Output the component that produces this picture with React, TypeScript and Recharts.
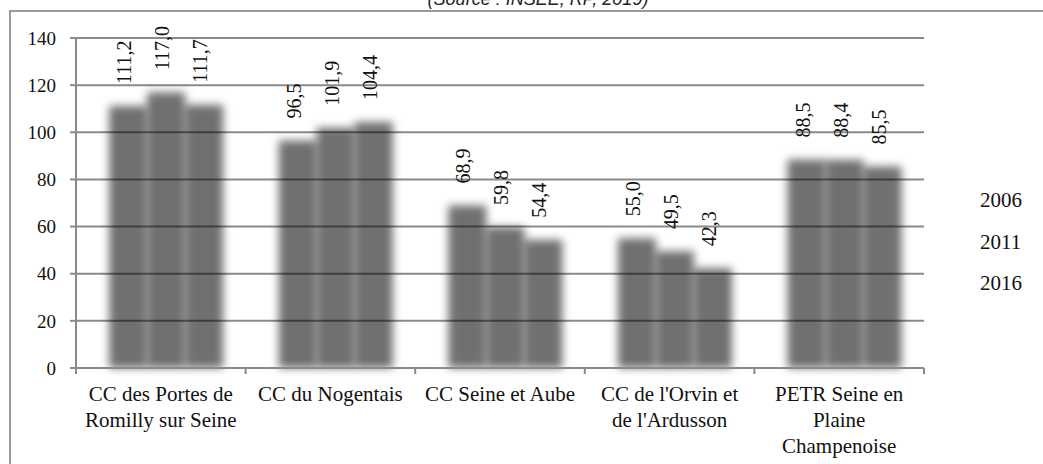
import React from 'react';
import { BarChart, Bar, XAxis, YAxis, CartesianGrid, LabelList } from 'recharts';

const categories = [
  'CC des Portes de\nRomilly sur Seine',
  'CC du Nogentais',
  'CC Seine et Aube',
  "CC de l'Orvin et\nde l'Ardusson",
  'PETR Seine en\nPlaine\nChampenoise',
];
const years = ['2006', '2011', '2016'];
const values2006 = [111.2, 96.5, 68.9, 55.0, 88.5];
const values2011 = [117.0, 101.9, 59.8, 49.5, 88.4];
const values2016 = [111.7, 104.4, 54.4, 42.3, 85.5];
const yTicks = [0, 20, 40, 60, 80, 100, 120, 140];

const data = categories.map((name, i) => ({
  name,
  v2006: values2006[i],
  v2011: values2011[i],
  v2016: values2016[i],
}));

const W = 1043;
const H = 464;
const PLOT_LEFT = 76;
const PLOT_RIGHT = 924;
const PLOT_TOP = 38;
const PLOT_BOTTOM = 368;
const BAND = (PLOT_RIGHT - PLOT_LEFT) / categories.length;
const SERIF = '"Liberation Serif", "Times New Roman", serif';
const AXIS = '#8a8a8a';

const fmt = (v: number) => v.toFixed(1).replace('.', ',');

const ValueLabel = (props: any) => {
  const { x, y, width, value } = props;
  const cx = Number(x) + Number(width) / 2 + 9;
  const ty = Number(y) - 22;
  return (
    <text
      x={cx}
      y={ty}
      transform={`rotate(-90, ${cx}, ${ty})`}
      textAnchor="start"
      fontFamily={SERIF}
      fontSize={20}
      fill="#111"
    >
      {fmt(Number(value))}
    </text>
  );
};

const CategoryTick = (props: any) => {
  const { x, y, payload, index } = props;
  const lines = String(payload.value).split('\n');
  const left = x - BAND / 2;
  return (
    <g>
      <line x1={left} x2={left} y1={PLOT_BOTTOM} y2={PLOT_BOTTOM + 6} stroke={AXIS} strokeWidth={2} />
      {index === categories.length - 1 && (
        <line x1={x + BAND / 2} x2={x + BAND / 2} y1={PLOT_BOTTOM} y2={PLOT_BOTTOM + 6} stroke={AXIS} strokeWidth={2} />
      )}
      <text x={x} y={y + 25} textAnchor="middle" fontFamily={SERIF} fontSize={21} fill="#111">
        {lines.map((l, i) => (
          <tspan key={i} x={x} dy={i === 0 ? 0 : 26}>
            {l}
          </tspan>
        ))}
      </text>
    </g>
  );
};

const seriesKeys = ['v2006', 'v2011', 'v2016'];

export default function App() {
  return (
    <div style={{ position: 'absolute', left: 0, top: 0, width: W, height: H, overflow: 'hidden', background: '#fff' }}>
      <div
        style={{
          position: 'absolute',
          left: 0,
          width: 1076,
          top: -10,
          textAlign: 'center',
          fontFamily: '"Liberation Sans", Arial, sans-serif',
          fontStyle: 'italic',
          fontSize: 18,
          lineHeight: '18px',
          color: '#222',
        }}
      >
        (Source : INSEE, RP, 2019)
      </div>
      <div
        style={{
          position: 'absolute',
          left: 9,
          top: 10,
          width: 1200,
          height: 600,
          border: '2px solid #9a9a9a',
        }}
      />
      <div style={{ position: 'absolute', left: 0, top: 0 }}>
        <BarChart
          width={W}
          height={H}
          data={data}
          margin={{ top: PLOT_TOP, right: W - PLOT_RIGHT, left: 0, bottom: 0 }}
          barCategoryGap="16%"
          barGap={0}
        >
          <defs>
            <filter id="soft" x="-50%" y="-15%" width="200%" height="130%">
              <feOffset dx={6} dy={0} />
              <feGaussianBlur stdDeviation={4.2} />
            </filter>
          </defs>
          <CartesianGrid vertical={false} stroke={AXIS} strokeWidth={2} />
          <XAxis
            dataKey="name"
            height={H - PLOT_BOTTOM}
            axisLine={{ stroke: AXIS, strokeWidth: 2 }}
            tickLine={false}
            interval={0}
            tick={<CategoryTick />}
          />
          <YAxis
            width={PLOT_LEFT}
            domain={[0, 140]}
            ticks={yTicks}
            interval={0}
            axisLine={{ stroke: AXIS, strokeWidth: 2 }}
            tickLine={{ stroke: AXIS, strokeWidth: 2 }}
            tickSize={6}
            tickMargin={14}
            tick={{ fontFamily: SERIF, fontSize: 19, fill: '#111' }}
          />
          {seriesKeys.map((k) => (
            <Bar
              key={k}
              dataKey={k}
              fill="#000"
              fillOpacity={0.56}
              filter="url(#soft)"
              isAnimationActive={false}
            >
              <LabelList dataKey={k} content={<ValueLabel />} />
            </Bar>
          ))}
        </BarChart>
      </div>
      {years.map((yr, i) => (
        <div
          key={yr}
          style={{
            position: 'absolute',
            left: 980,
            top: 187 + i * 41.5,
            fontFamily: SERIF,
            fontSize: 21,
            lineHeight: '26px',
            color: '#111',
          }}
        >
          {yr}
        </div>
      ))}
    </div>
  );
}
